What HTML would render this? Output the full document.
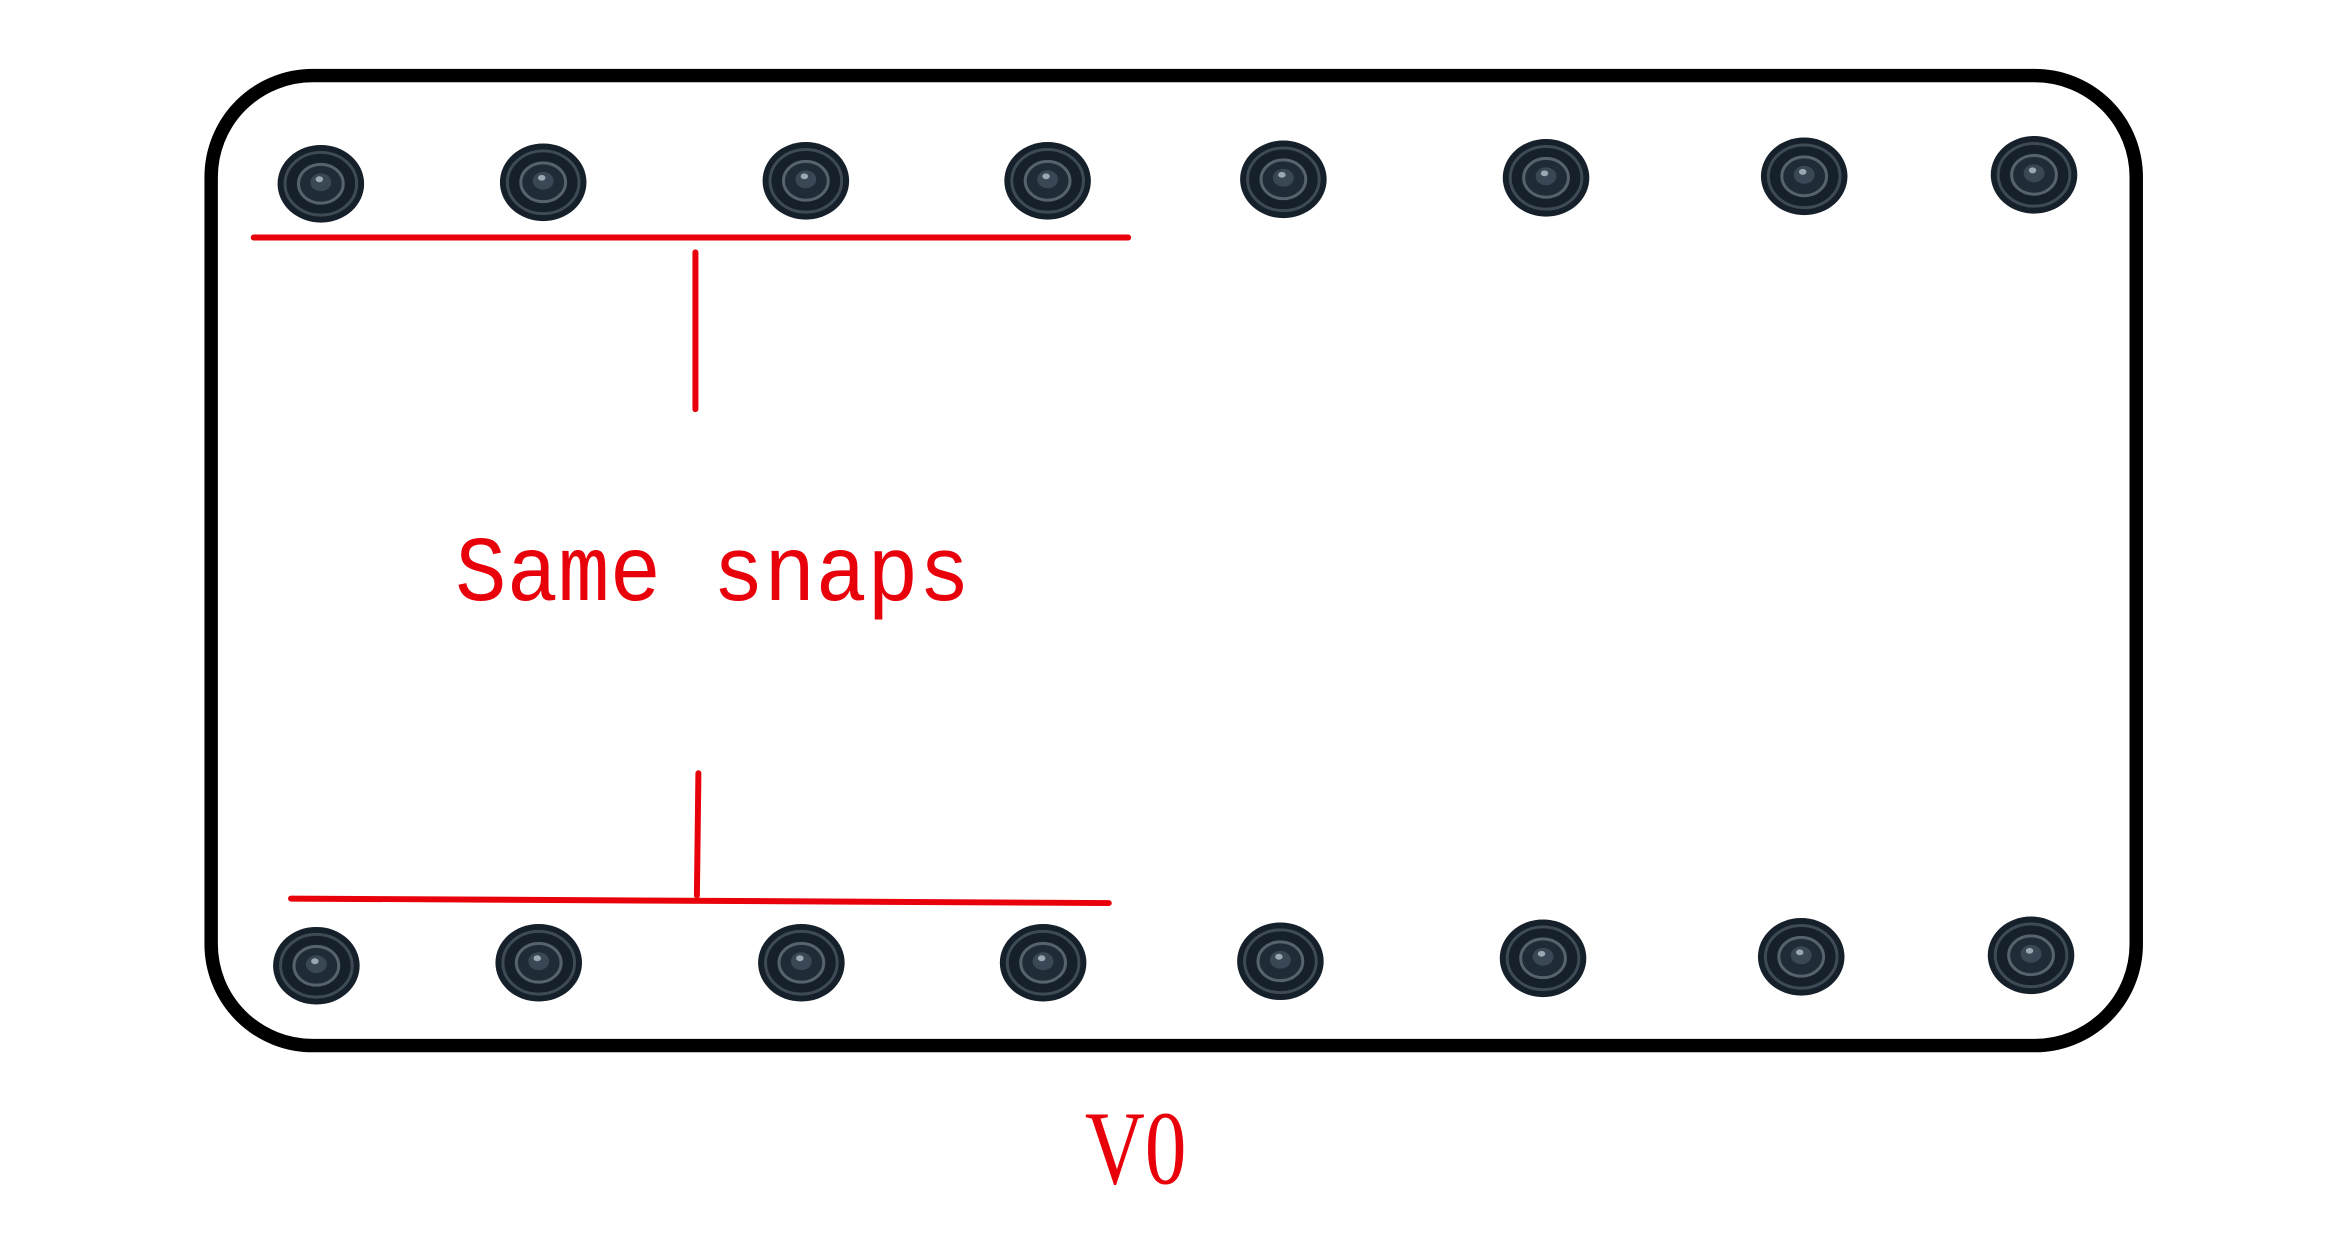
<!DOCTYPE html>
<html><head><meta charset="utf-8"><style>html,body{margin:0;padding:0;background:#fff}svg{display:block}</style></head>
<body>
<svg width="2328" height="1248" viewBox="0 0 1560 836" xmlns="http://www.w3.org/2000/svg">
<defs>
<g id="s">
<ellipse cx="0" cy="0" rx="29" ry="26" fill="#16202a"/>
<ellipse cx="0" cy="0" rx="24" ry="21" fill="none" stroke="#3e4a55" stroke-width="2"/>
<ellipse cx="0" cy="0" rx="15" ry="13" fill="#1f2b36" stroke="#56626c" stroke-width="2"/>
<ellipse cx="0" cy="-1" rx="7" ry="6" fill="#3a4856"/>
<ellipse cx="-1" cy="-3" rx="2.5" ry="2" fill="#9aa8b4"/>
</g>
</defs>
<rect x="141.5" y="50.5" width="1290" height="650" rx="68" ry="68" fill="none" stroke="#000" stroke-width="9"/>
<use href="#s" x="215" y="123"/><use href="#s" x="364" y="122"/><use href="#s" x="540" y="121"/><use href="#s" x="702" y="121"/>
<use href="#s" x="860" y="120"/><use href="#s" x="1036" y="119"/><use href="#s" x="1209" y="118"/><use href="#s" x="1363" y="117"/>
<use href="#s" x="212" y="647"/><use href="#s" x="361" y="645"/><use href="#s" x="537" y="645"/><use href="#s" x="699" y="645"/>
<use href="#s" x="858" y="644"/><use href="#s" x="1034" y="642"/><use href="#s" x="1207" y="641"/><use href="#s" x="1361" y="640"/>
<g stroke="#e8000a" stroke-width="4" stroke-linecap="round">
<line x1="170" y1="159" x2="756" y2="159"/>
<line x1="466" y1="169" x2="466" y2="274"/>
<line x1="195" y1="602" x2="743" y2="605"/>
<line x1="468" y1="518" x2="467" y2="600"/>
</g>
<text x="305" y="402" font-family="Liberation Mono, monospace" font-size="62" fill="#e8000a" textLength="345" lengthAdjust="spacingAndGlyphs">Same snaps</text>
<text x="727" y="793" font-family="Liberation Serif, serif" font-size="70" fill="#e8000a" textLength="68" lengthAdjust="spacingAndGlyphs">V0</text>
</svg>
</body></html>
